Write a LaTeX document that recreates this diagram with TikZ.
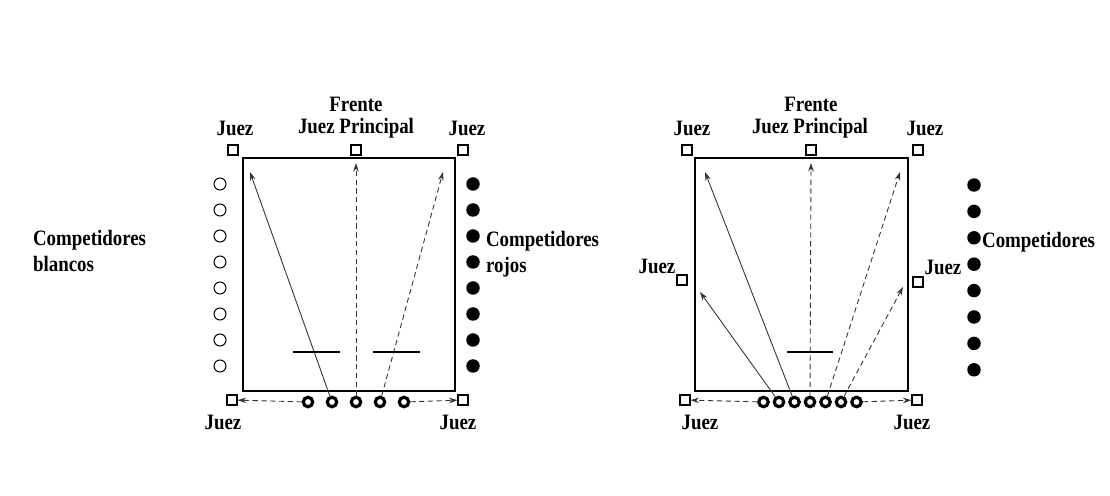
\documentclass[tikz,border=0pt]{standalone}
\usepackage{fontspec}
\setmainfont[FakeStretch=0.86]{Liberation Serif}
\usetikzlibrary{arrows.meta,positioning}

\begin{document}
\begin{tikzpicture}[
      x=0.02cm, y=-0.02cm,
      judge/.style={draw, line width=0.6pt, minimum size=0.2cm, inner sep=0pt},
      whiteDot/.style={circle, draw, line width=0.6pt, minimum size=0.24cm, inner sep=0pt},
      redDot/.style={circle, fill, minimum size=0.27cm, inner sep=0pt},
      runner/.style={circle, draw, line width=1.8pt, minimum size=0.19cm, inner sep=0pt},
      lbl/.style={font=\bfseries\fontsize{12.5}{14.5}\selectfont, inner sep=1pt},
      move/.style={-{Stealth[length=1.7mm, width=1.1mm]}, line width=0.5pt, black!80},
      moveD/.style={move, densely dashed},
      bar/.style={line width=0.6pt}
    ]
      \useasboundingbox (0,0) rectangle (1110,496);

      % left court
      \draw[line width=0.7pt] (243,158) rectangle (455,391);
      \node[judge] (jtl) at (233,150) {};
      \node[judge] (jtm) at (356,150) {};
      \node[judge] (jtr) at (463,150) {};
      \node[judge] (jbl) at (232,400) {};
      \node[judge] (jbr) at (463,400) {};
      \node[lbl] at (356,104) {Frente};
      \node[lbl] at (356,128) {Juez Principal};
      \node[lbl] at (235,128) {Juez};
      \node[lbl] at (467,128) {Juez};
      \node[lbl] at (223,422) {Juez};
      \node[lbl] at (458,422) {Juez};
      \node[lbl, align=left, anchor=west] at (31,251) {Competidores\\blancos};
      \node[lbl, align=left, anchor=west] at (484,254) {Competidores\\rojos};
      \foreach \i in {0,...,7} {
        \node[whiteDot] (w\i) at (220,{184+26*\i}) {};
        \node[redDot] (r\i) at (473,{184+26*\i}) {};
      }
      \foreach \i in {1,...,5}
        \node[runner] (a\i) at ({284+24*\i},402) {};
      \coordinate (tl) at (250,172);
      \coordinate (tm) at (356,163);
      \coordinate (tr) at (443,172);
      \draw[move] (a2) -- (tl);
      \draw[moveD] (a3) -- (tm);
      \draw[moveD] (a4) -- (tr);
      \draw[moveD] (a1) -- (jbl);
      \draw[moveD] (a5) -- (jbr);
      \draw[bar] (293,352) -- (340,352);
      \draw[bar] (373,352) -- (420,352);

      % right court
      \draw[line width=0.7pt] (695,158) rectangle (908,391);
      \node[judge] (ktl) at (687,150) {};
      \node[judge] (ktm) at (811,150) {};
      \node[judge] (ktr) at (918,150) {};
      \node[judge] (kml) at (682,280) {};
      \node[judge] (kmr) at (918,282) {};
      \node[judge] (kbl) at (685,400) {};
      \node[judge] (kbr) at (917,400) {};
      \node[lbl] at (811,104) {Frente};
      \node[lbl] at (810,128) {Juez Principal};
      \node[lbl] at (692,128) {Juez};
      \node[lbl] at (925,128) {Juez};
      \node[lbl] at (657,266) {Juez};
      \node[lbl] at (943,267) {Juez};
      \node[lbl] at (700,422) {Juez};
      \node[lbl] at (912,422) {Juez};
      \node[lbl, anchor=west] at (980,242) {Competidores};
      \foreach \i in {0,...,7}
        \node[redDot] (s\i) at (974,{185+26.4*\i}) {};
      \foreach \i in {1,...,7}
        \node[runner] (b\i) at ({748+15.5*\i},402) {};
      \coordinate (ufl) at (700,292);
      \coordinate (ul) at (705,172);
      \coordinate (um) at (811,163);
      \coordinate (ur) at (900,172);
      \coordinate (ufr) at (903,287);
      \draw[move] (b2) -- (ufl);
      \draw[move] (b3) -- (ul);
      \draw[moveD] (b4) -- (um);
      \draw[moveD] (b5) -- (ur);
      \draw[moveD] (b6) -- (ufr);
      \draw[moveD] (b1) -- (kbl);
      \draw[moveD] (b7) -- (kbr);
      \draw[bar] (787,352) -- (833,352);
    \end{tikzpicture}
\end{document}
